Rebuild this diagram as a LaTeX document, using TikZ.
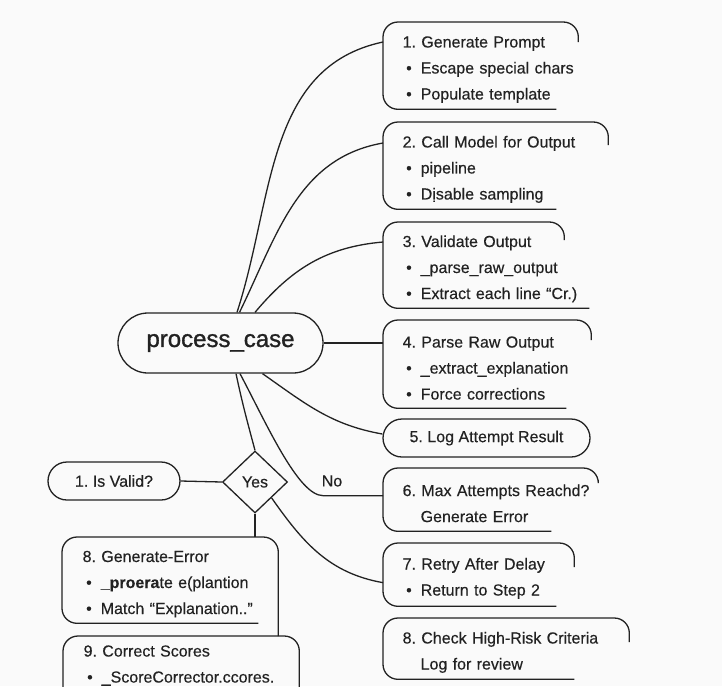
\documentclass[tikz,border=0pt]{standalone}
\usepackage{fontspec}
\setmainfont{Liberation Sans}[FakeBold=0.35]
\newfontfamily\pcfont{Liberation Sans}[FakeBold=1.2]
\usetikzlibrary{shapes.geometric,shapes.misc}
\definecolor{ink}{HTML}{222222}
\definecolor{paper}{HTML}{FAFAFA}
\frenchspacing
\newcommand{\ttl}[1]{\mbox{\rule{0pt}{19pt}#1}}
\newcommand{\bul}[1]{\mbox{\hspace*{3.5pt}\textbullet\hspace{9pt}#1}}
\newcommand{\subline}[1]{\mbox{\hspace*{18pt}#1}}
\newcommand{\openbox}[3]{\draw[outline] ([xshift=#2]#1.south east) -- (#1.south west) -- (#1.north west) -- (#1.north east) -- ([yshift=-#3]#1.north east);}
\begin{document}
\begin{tikzpicture}[x=1pt,y=1pt,line width=1.3pt,ink,
	every node/.style={font=\fontsize{16}{26}\selectfont,text=ink},
	stepbox/.style={rectangle,anchor=north west,inner xsep=19pt,inner ysep=0pt,align=left},
	pill/.style={rounded rectangle,draw,inner sep=0pt},
	decision/.style={diamond,draw,inner sep=0pt,minimum width=65pt,minimum height=62pt},
	outline/.style={rounded corners=15pt}]
		\fill[paper] (0,0) rectangle (722,-686);
		\useasboundingbox (0,0) rectangle (722,-686);
		\node[pill,minimum width=205pt,minimum height=60pt,font=\pcfont\fontsize{24}{28}\selectfont] (pc) at (220.5,-343) {process\_case};
		\node[stepbox,minimum width=194pt,minimum height=86pt,text width=156pt] (b1) at (383,-22) {\ttl{1. Generate Prompt}\\ \bul{Escape special chars}\\ \bul{Populate template}};
		\node[stepbox,minimum width=224pt,minimum height=86pt,text width=186pt] (b2) at (383,-122) {\ttl{2. Call Model for Output}\\ \bul{pipeline}\\ \bul{Dịsable sampling}};
		\node[stepbox,minimum width=180pt,minimum height=85pt,text width=142pt] (b3) at (383,-222) {\ttl{3. Validate Output}\\ \bul{\_parse\_raw\_output}\\ \bul{Extract each line “Cr.)}};
		\node[stepbox,minimum width=207pt,minimum height=87pt,text width=169pt] (b4) at (383,-320) {\ttl{4. Parse Raw Output}\\ \bul{\_extract\_explanation}\\ \bul{Force corrections}};
		\node[pill,minimum width=207pt,minimum height=38pt] (b5) at (486.5,-438) {5. Log Attempt Result};
		\node[stepbox,minimum width=214pt,minimum height=62pt,text width=176pt] (b6) at (383,-468) {\ttl{6. Max Attempts Reachd?}\\ \subline{Generate Error}};
		\node[stepbox,minimum width=190pt,minimum height=62pt,text width=152pt] (b7) at (383,-543) {\ttl{7. Retry After Delay}\\ \bul{Return to Step 2}};
		\node[stepbox,minimum width=245pt,minimum height=60pt,text width=207pt] (b8) at (383,-618) {\ttl{8. Check High-Risk Criteria}\\ \subline{Log for review}};
		\node[decision] (dm) at (255,-482) {Yes};
		\node[pill,minimum width=132pt,minimum height=38pt] (iv) at (114,-481) {1. Is Valid?};
		\node (no) at (332,-481) {No};
		\node[stepbox,inner xsep=20pt,minimum width=215pt,minimum height=85pt,text width=175pt] (ge) at (62,-537) {\ttl{8. Generate-Error}\\ \bul{\textbf{\_proera}te e(plantion}\\ \bul{Match “Explanation..”}};
		\node[stepbox,inner xsep=20pt,minimum width=235pt,minimum height=50pt,text width=195pt] (cs) at (63,-636) {\ttl{9. Correct Scores}\\ \bul{\_ScoreCorrector.ccores.}};
		\openbox{b1}{-22pt}{20pt}
		\openbox{b2}{-52pt}{23pt}
		\openbox{b3}{25pt}{18pt}
		\openbox{b4}{-25pt}{20pt}
		\openbox{b6}{-47pt}{12pt}
		\openbox{b7}{-18pt}{24pt}
		\openbox{b8}{-55pt}{24pt}
		\draw[outline] ([xshift=-20pt]ge.south east) -- (ge.south west) -- (ge.north west) -- (ge.north east) -- (ge.north east |- cs.north);
		\draw[outline] ([yshift=-70pt]cs.north west) -- (cs.north west) -- (cs.north east) -- ([yshift=-70pt]cs.north east);
		\draw ([xshift=16.5pt]pc.north) to[out=72,in=192] ([yshift=-20pt]b1.north west);
		\draw ([xshift=19pt]pc.north) to[out=64,in=190] ([yshift=-21pt]b2.north west);
		\draw ([xshift=34.5pt]pc.north) to[out=50,in=185] ([yshift=-20pt]b3.north west);
		\draw (pc.east) -- (pc.east -| b4.west);
		\draw ([xshift=42pt]pc.south) to[out=-35,in=170] ([yshift=4pt]b5.west);
		\draw ([xshift=15.5pt]pc.south) to[out=-78,in=105] (dm.north);
		\draw ([xshift=19.5pt]pc.south) .. controls +(-62:55) and +(-25,0) .. ([xshift=-60pt,yshift=4pt]b6.west) -- ([yshift=4pt]b6.west);
		\draw (dm.south east) to[out=-55,in=170] ([yshift=-8pt]b7.west);
		\draw (dm.west) -- (iv.east);
		\draw (dm.south) -- (dm.south |- ge.north);
\end{tikzpicture}
\end{document}
